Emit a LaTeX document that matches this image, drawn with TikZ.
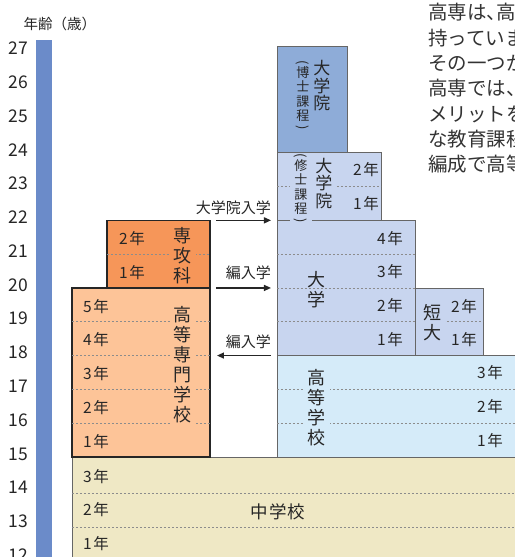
\documentclass[tikz,border=0pt]{standalone}
\usepackage{fontspec}
\setmainfont{Noto Sans CJK JP}
\usepackage{graphicx}
\usetikzlibrary{arrows.meta}

\definecolor{agebar}{HTML}{6B8BC9}
\definecolor{kosen}{HTML}{FDC498}
\definecolor{senkou}{HTML}{F69659}
\definecolor{daigaku}{HTML}{C8D5EF}
\definecolor{hakase}{HTML}{8EACD8}
\definecolor{koukou}{HTML}{D5EBF9}
\definecolor{chugaku}{HTML}{EFE8C5}

\newcommand{\kakkoL}{\rotatebox[origin=c]{-90}{(}}
\newcommand{\kakkoR}{\rotatebox[origin=c]{-90}{)}}

\begin{document}
\begin{tikzpicture}
[x=1pt,y=33.8pt,
 every node/.style={inner sep=0pt,text=black!85},
 darkbox/.style={draw=black!85,line width=1.3pt},
 bluebox/.style={draw=black!60,line width=0.8pt},
 yearline/.style={draw=black!45,dash pattern=on 2pt off 2pt,line width=0.6pt},
 nen/.style={font=\fontsize{15.5}{16}\selectfont},
 tate/.style={align=center,font=\fontsize{18}{20}\selectfont,inner xsep=4pt,inner ysep=1pt},
 tatein/.style={align=center,font=\fontsize{17}{17.5}\selectfont,inner xsep=4pt,inner ysep=1pt},
 kakko/.style={align=center,font=\fontsize{13}{14.5}\selectfont,inner xsep=4pt,inner ysep=1pt},
 nyugaku/.style={font=\fontsize{15}{16}\selectfont,anchor=east},
 shinro/.style={-{Triangle[length=7pt,width=6pt]},line width=1.3pt,draw=black!85},
 honbun/.style={font=\fontsize{19.5}{20}\selectfont,anchor=base west,text=black!80}]

  \clip (0,12.04) rectangle (515,28.52);

  % age axis
  \fill[agebar] (36,11) rectangle (52,27.34);
  \node[font=\fontsize{14.5}{15}\selectfont] (nenrei) at (60,27.81) {年齢（歳）};
  \foreach \a in {12,...,27}
    \node[font=\fontsize{17.5}{18}\selectfont] (age\a) at (18.5,\a+0.09) {\a};

  % school boxes
  \filldraw[fill=chugaku,bluebox] (72,11) rectangle (540,15);
  \filldraw[fill=koukou,bluebox] (277,15) rectangle (540,18);
  \filldraw[fill=daigaku,bluebox] (277,18) rectangle (415,22);
  \filldraw[fill=daigaku,bluebox] (415,18) rectangle (483,20);
  \filldraw[fill=daigaku,bluebox] (277,22) rectangle (381,24);
  \filldraw[fill=hakase,bluebox] (277,24) rectangle (347,27.16);
  \filldraw[fill=kosen,darkbox] (72,15) rectangle (210,20);
  \filldraw[fill=senkou,darkbox] (107,20) rectangle (210,22);

  % year lines
  \foreach \a in {16,...,19}
    \draw[yearline] (72,\a) -- (210,\a);
  \draw[yearline] (107,21) -- (210,21);
  \foreach \a in {19,20,21}
    \draw[yearline] (277,\a) -- (415,\a);
  \draw[yearline] (447,19) -- (483,19);
  \draw[yearline] (277,23) -- (381,23);
  \foreach \a in {16,17}
    \draw[yearline] (277,\a) -- (540,\a);
  \foreach \a in {13.92,12.93}
    \draw[yearline] (72,\a) -- (540,\a);

  % school names
  \node[tate,fill=senkou] (senkoka) at (183,20.97) {専\\攻\\科};
  \node[tate,fill=kosen] (kosenmei) at (183,17.72) {高\\等\\専\\門\\学\\校};
  \node[tate] (daigakumei) at (317,19.94) {大\\学};
  \node[tate,fill=daigaku] (tandai) at (433,18.96) {短\\大};
  \node[tate,fill=koukou] (koukoumei) at (317,16.45) {高\\等\\学\\校};
  \node[tatein,fill=daigaku] (shushi) at (324,23.1) {大\\学\\院};
  \node[kakko,fill=daigaku] (shushisub) at (301,22.93) {\kakkoL\\[-4pt]修\\士\\課\\程\\[-4pt]\kakkoR};
  \node[tatein] (hakushi) at (322,25.98) {大\\学\\院};
  \node[kakko] (hakushisub) at (303,25.68) {\kakkoL\\[-4pt]博\\士\\課\\程\\[-4pt]\kakkoR};
  \node[font=\fontsize{17.5}{18}\selectfont] (chugakumei) at (278,13.37) {中\kern1pt学\kern1pt校};

  % years
  \foreach \n/\a in {5/19,4/18,3/17,2/16,1/15}
    \node[nen] (kosen\n) at (96,\a+0.46) {\n\kern1.5pt年};
  \foreach \n/\a in {2/21,1/20}
    \node[nen] (senkoka\n) at (132,\a+0.46) {\n\kern1.5pt年};
  \foreach \n/\a in {3/14,2/13,1/12}
    \node[nen] (chugaku\n) at (96,\a+0.43) {\n\kern1.5pt年};
  \foreach \n/\a in {4/21,3/20,2/19,1/18}
    \node[nen] (daigaku\n) at (390,\a+0.47) {\n\kern1.5pt年};
  \foreach \n/\a in {2/19,1/18}
    \node[nen] (tandai\n) at (464,\a+0.46) {\n\kern1.5pt年};
  \foreach \n/\a in {2/23,1/22}
    \node[nen] (shushi\n) at (366,\a+0.49) {\n\kern1.5pt年};
  \foreach \n/\a in {3/17,2/16,1/15}
    \node[nen] (koukou\n) at (490,\a+0.49) {\n\kern1.5pt年};

  % transfers
  \coordinate (in1s) at (216,22);
  \coordinate (in1e) at (271,22);
  \coordinate (in2s) at (216,20);
  \coordinate (in2e) at (271,20);
  \coordinate (in3s) at (271,18);
  \coordinate (in3e) at (217,18);
  \foreach \from/\to in {in1s/in1e,in2s/in2e,in3s/in3e}
    \draw[shinro] (\from) -- (\to);
  \node[nyugaku] (lab1) at (271,22.37) {大学院入学};
  \node[nyugaku] (lab2) at (271,20.44) {編入学};
  \node[nyugaku] (lab3) at (271,18.4) {編入学};

  % text column
  \foreach \txt [count=\i] in {高専は、\kern-9.5pt高,持っていま,その一つが,高専では、,メリットを,な教育課程,編成で高等}
    \node[honbun] (gyou\i) at (428,{27.93-0.7485*(\i-1)}) {\txt};
\end{tikzpicture}
\end{document}
